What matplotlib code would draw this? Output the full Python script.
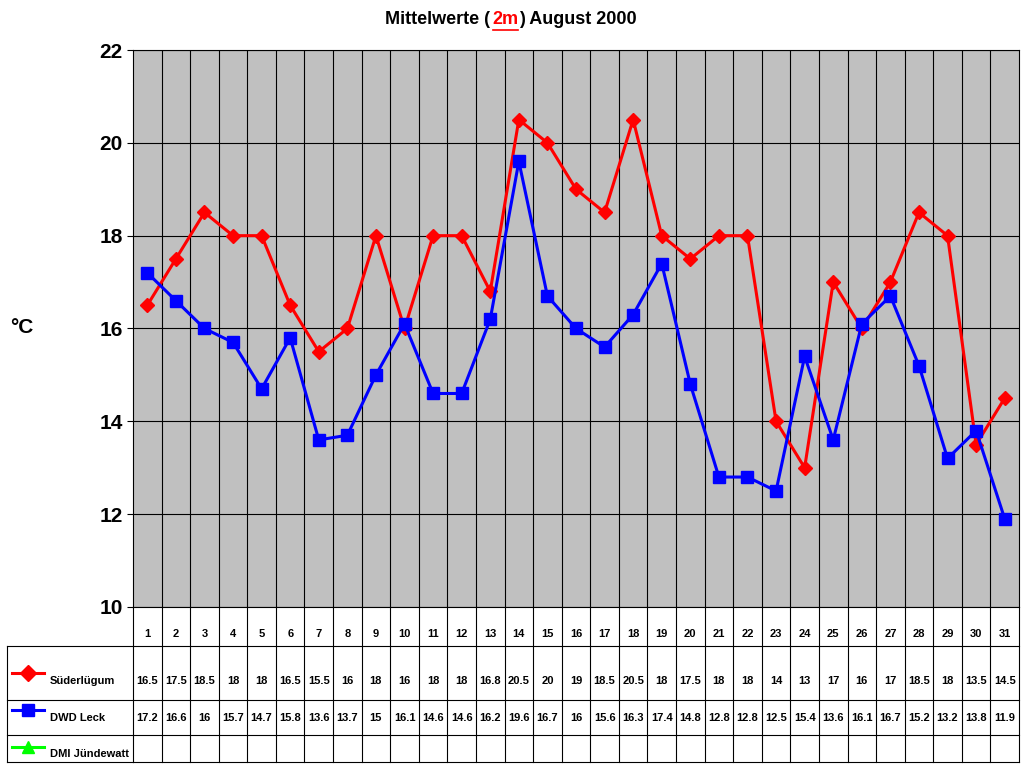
import matplotlib
matplotlib.use("Agg")
import matplotlib.pyplot as plt
import numpy as np

plt.rcParams['font.family'] = ['Liberation Sans', 'DejaVu Sans']
plt.rcParams['font.weight'] = 'bold'

days = list(range(1, 32))
suederluegum = [16.5, 17.5, 18.5, 18, 18, 16.5, 15.5, 16, 18, 16, 18, 18, 16.8, 20.5, 20, 19,
                18.5, 20.5, 18, 17.5, 18, 18, 14, 13, 17, 16, 17, 18.5, 18, 13.5, 14.5]
dwd_leck = [17.2, 16.6, 16, 15.7, 14.7, 15.8, 13.6, 13.7, 15, 16.1, 14.6, 14.6, 16.2, 19.6, 16.7, 16,
            15.6, 16.3, 17.4, 14.8, 12.8, 12.8, 12.5, 15.4, 13.6, 16.1, 16.7, 15.2, 13.2, 13.8, 11.9]
series_names = ["Süderlügum", "DWD Leck", "DMI Jündewatt"]
series_colors = ["#ff0000", "#0000ff", "#00ff00"]
series_markers = ["D", "s", "^"]
yticks = [10, 12, 14, 16, 18, 20, 22]

W, H = 1024, 768
fig = plt.figure(figsize=(10.24, 7.68), dpi=100)
x0, x1 = 133, 1019
ax = fig.add_axes([x0 / W, 1 - 607 / H, (x1 - x0) / W, (607 - 50) / H])
ax.set_facecolor("#c0c0c0")
ax.set_xlim(0.5, 31.5)
ax.set_ylim(10, 22)
ax.set_yticks(yticks)
ax.tick_params(axis='y', labelsize=15, length=4, direction='out')
ax.set_xticks([])
for y in yticks:
    ax.axhline(y, color='black', lw=0.8)
for d in np.arange(1.5, 31.5, 1):
    ax.axvline(d, color='black', lw=0.8)
for s in ax.spines.values():
    s.set_linewidth(0.8)

ax.plot(days, suederluegum, color=series_colors[0], marker='D', ms=7, lw=2.2, clip_on=False)
ax.plot(days, dwd_leck, color=series_colors[1], marker='s', ms=8, lw=2.2, clip_on=False)

fig.text(10 / W, 1 - 328 / H, "°C", fontsize=15, va='center', ha='left')

# title
fig.text(385 / W, 1 - 20 / H, "Mittelwerte (", fontsize=13, va='center', ha='left')
fig.text(492 / W, 1 - 20 / H, "2m", fontsize=13, va='center', ha='left', color='red')
fig.plot = None
fig.add_artist(plt.Line2D([493 / W, 518 / W], [1 - 30 / H, 1 - 30 / H], color='red', lw=1.2))
fig.text(519 / W, 1 - 20 / H, ") August 2000", fontsize=13, va='center', ha='left')

# data table
tab = fig.add_axes([x0 / W, 1 - 762 / H, (x1 - x0) / W, (762 - 607) / H])
tab.set_xlim(0.5, 31.5)
tab.set_ylim(762, 607)
tab.axis('off')
rows = [607, 646, 700, 735, 762]
for d in np.arange(0.5, 32, 1):
    tab.plot([d, d], [607, 762], color='black', lw=0.8, clip_on=False)
for r in rows[1:]:
    tab.plot([0.5, 31.5], [r, r], color='black', lw=0.8, clip_on=False)
for d in days:
    tab.text(d, 634, str(d), ha='center', va='center', fontsize=8)
    tab.text(d, 681, f"{suederluegum[d - 1]:g}", ha='center', va='center', fontsize=8)
    tab.text(d, 718, f"{dwd_leck[d - 1]:g}", ha='center', va='center', fontsize=8)

# legend column
leg = fig.add_axes([7 / W, 1 - 762 / H, (x0 - 7) / W, (762 - 646) / H])
leg.set_xlim(7, x0)
leg.set_ylim(762, 646)
leg.axis('off')
for r in [646, 700, 735, 762]:
    leg.plot([7, x0], [r, r], color='black', lw=0.8, clip_on=False)
leg.plot([7, 7], [646, 762], color='black', lw=0.8, clip_on=False)
for yrow, ymark, name, c, m in zip([681, 718, 754], [673, 710, 747], series_names, series_colors, series_markers):
    leg.plot([12, 44], [ymark, ymark], color=c, lw=2.2, clip_on=False)
    leg.plot([28], [ymark], marker=m, color=c, ms=8, clip_on=False)
    leg.text(50, yrow, name, fontsize=8, va='center', ha='left')

fig.savefig("out.png", dpi=100)
